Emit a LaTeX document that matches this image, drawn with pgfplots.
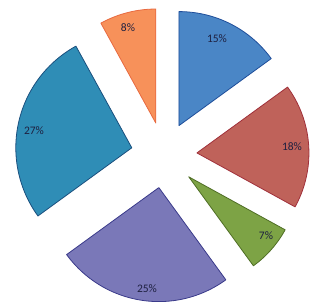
\documentclass[border=0pt]{standalone}
\usepackage{pgfplots}
\pgfplotsset{compat=1.18}
\usepackage{fontspec}
\setmainfont{Carlito}
\definecolor{cBlue}{HTML}{4A86C6}
\definecolor{cBlueD}{HTML}{1F4E9A}
\definecolor{cRed}{HTML}{BF625A}
\definecolor{cRedD}{HTML}{A0303A}
\definecolor{cGreen}{HTML}{7DA345}
\definecolor{cGreenD}{HTML}{4F6E25}
\definecolor{cPurple}{HTML}{7A78B8}
\definecolor{cPurpleD}{HTML}{3A3A8A}
\definecolor{cTeal}{HTML}{2F8DB6}
\definecolor{cTealD}{HTML}{1A4F7E}
\definecolor{cOrange}{HTML}{F7915A}
\definecolor{cOrangeD}{HTML}{E86A40}
\definecolor{cText}{HTML}{1E2040}
\begin{document}
% shares (percent): 15, 18, 7, 25, 27, 8  -> angles start at 90 deg, clockwise
\begin{tikzpicture}
\begin{axis}[
  width=310pt, height=304pt, scale only axis,
  xmin=0, xmax=310, ymin=0, ymax=304,
  hide axis, clip=false,
  every axis plot/.append style={line width=0.8pt, line join=round, samples=60, variable=\t},
]
\path (rel axis cs:0,0) rectangle (rel axis cs:1,1);
% 15%
\addplot[fill=cBlue, draw=cBlueD, domain=36:90] ({178.98+114*cos(\t)},{178.40+114*sin(\t)}) -- (axis cs:178.98,178.40) -- cycle;
% 18%
\addplot[fill=cRed, draw=cRedD, domain=-28.8:36] ({196.93+112*cos(\t)},{151.07+112*sin(\t)}) -- (axis cs:196.93,151.07) -- cycle;
% 7%
\addplot[fill=cGreen, draw=cGreenD, domain=-54:-28.8] ({188.75+110*cos(\t)},{127.18+110*sin(\t)}) -- (axis cs:188.75,127.18) -- cycle;
% 25%
\addplot[fill=cPurple, draw=cPurpleD, domain=-144:-54] ({158.84+114*cos(\t)},{116.41+114*sin(\t)}) -- (axis cs:158.84,116.41) -- cycle;
% 27%
\addplot[fill=cTeal, draw=cTealD, domain=-241.2:-144] ({131.80+116*cos(\t)},{156.20+116*sin(\t)}) -- (axis cs:131.80,156.20) -- cycle;
% 8%
\addplot[fill=cOrange, draw=cOrangeD, domain=-270:-241.2] ({155.79+114*cos(\t)},{180.96+114*sin(\t)}) -- (axis cs:155.79,180.96) -- cycle;

\begin{scope}[every node/.style={font=\fontsize{11.5}{13}\selectfont, text=cText}]
\node at (axis cs:217,265) {15\%};
\node at (axis cs:292,157) {18\%};
\node at (axis cs:266,68) {7\%};
\node at (axis cs:147,15) {25\%};
\node at (axis cs:34,173) {27\%};
\node at (axis cs:128,276) {8\%};
\end{scope}
\end{axis}
\end{tikzpicture}
\end{document}
